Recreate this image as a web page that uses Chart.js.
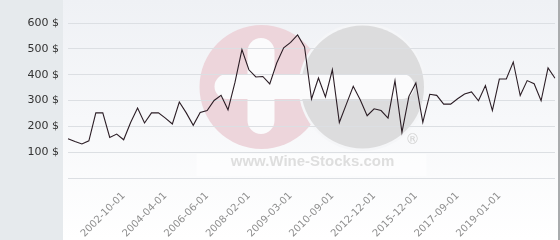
<!DOCTYPE html>
<html>
  <head>
    <meta charset="UTF-8">
    <title>Wine price history</title>
    <script src="https://cdn.jsdelivr.net/npm/chart.js@4"></script>
    <style>
      html, body { margin: 0; padding: 0; background: #fff; }
      canvas { display: block; }
    </style>
  </head>
  <body>
    <canvas id='priceChart' width='560' height='240'></canvas>

    <script>
      // one category per price quote, only some of them carry a date label
      const dateLabels = [
        '', '', '', '', '', '', '', '', '2002-10-01', '', '', '', '',
        '', '2004-04-01', '', '', '', '', '', '2006-06-01', '', '', '', '',
        '', '2008-02-01', '', '', '', '', '', '2009-03-01', '', '', '', '',
        '', '2010-09-01', '', '', '', '', '', '2012-12-01', '', '', '', '',
        '', '2015-12-01', '', '', '', '', '', '2017-09-01', '', '', '', '',
        '', '2019-01-01', '', '', '', '', '', '', '', ''
      ];

      const prices = [
        152, 141, 132, 144, 252, 252, 157, 170, 148, 215,
        271, 213, 252, 252, 232, 209, 294, 252, 204, 254,
        261, 300, 320, 264, 370, 497, 419, 391, 393, 364,
        445, 504, 525, 554, 507, 306, 387, 314, 419, 215,
        285, 355, 303, 241, 268, 261, 232, 377, 177, 316,
        368, 215, 324, 320, 286, 286, 307, 325, 333, 299,
        358, 261, 383, 383, 449, 319, 377, 365, 299, 426,
        386
      ];

      const priceTicks = [0, 100, 200, 300, 400, 500, 600];

      function pill(ctx, x, y, w, h) {
        ctx.beginPath();
        ctx.roundRect(x, y, w, h, Math.min(w, h) / 2);
        ctx.fill();
      }

      // page background, left label panel and the site watermark
      const backdrop = {
        id: 'backdrop',
        beforeDraw(chart) {
          const ctx = chart.ctx;
          const { width, height, chartArea } = chart;
          ctx.save();

          let bg = ctx.createLinearGradient(0, 0, 0, height);
          bg.addColorStop(0, '#eff1f5');
          bg.addColorStop(1, '#ffffff');
          ctx.fillStyle = bg;
          ctx.fillRect(0, 0, width, height);

          ctx.fillStyle = '#e6eaed';
          ctx.fillRect(0, 0, 63, height);
          ctx.fillStyle = '#a9abad';
          ctx.fillRect(width - 2, 0, 2, height);

          let cx = (chartArea.left + chartArea.right) / 2;
          let cy = chartArea.top + 64;
          let r = 62;

          ctx.fillStyle = '#edd5db';
          ctx.beginPath();
          ctx.arc(cx - 50, cy, r, 0, Math.PI * 2);
          ctx.fill();

          ctx.fillStyle = '#f5f6f8';
          ctx.beginPath();
          ctx.arc(cx + 51, cy, r + 2, 0, Math.PI * 2);
          ctx.fill();
          ctx.fillStyle = '#dcdcdd';
          ctx.beginPath();
          ctx.arc(cx + 51, cy, r - 0.5, 0, Math.PI * 2);
          ctx.fill();

          ctx.fillStyle = '#fbfbfc';
          pill(ctx, cx - 64, cy - 49, 27, 96);
          pill(ctx, cx - 97, cy - 13, 200, 25);

          ctx.fillStyle = 'rgba(255,255,255,0.5)';
          ctx.fillRect(cx - 115, cy + 67, 230, 22);

          ctx.fillStyle = '#dedede';
          ctx.font = 'bold 15px "Liberation Sans", Arial, sans-serif';
          ctx.textAlign = 'center';
          ctx.textBaseline = 'alphabetic';
          ctx.fillText('www.Wine-Stocks.com', cx + 1, cy + 79);

          ctx.fillStyle = '#d2d2d2';
          ctx.font = '14px "DejaVu Sans", sans-serif';
          ctx.fillText('\u00ae', cx + 101, cy + 57);

          ctx.restore();
        }
      };

      const priceCtx = document.getElementById('priceChart').getContext('2d');

      let priceChart = new Chart(priceCtx, {
        type: 'line',
        data: {
          labels: dateLabels,
          datasets: [{
            label: 'Price',
            data: prices,
            borderColor: '#2b1d25',
            borderWidth: 1.1,
            pointRadius: 0,
            tension: 0,
            fill: false
          }]
        },
        options: {
          responsive: false,
          animation: false,
          layout: { padding: { top: 23, right: 5, left: 0, bottom: 0 } },
          plugins: {
            legend: { display: false },
            tooltip: { enabled: false }
          },
          scales: {
            x: {
              offset: false,
              grid: { display: false, drawTicks: false },
              border: { display: false },
              ticks: {
                autoSkip: false,
                maxRotation: 45,
                minRotation: 45,
                padding: 12,
                color: '#8e8e8e',
                font: { family: 'DejaVu Sans', size: 10 }
              },
              afterFit: (scale) => {
                scale.height = 62;
                scale.paddingLeft = 0;
                scale.paddingRight = 0;
              }
            },
            y: {
              min: 0,
              max: 600,
              afterBuildTicks: (scale) => {
                scale.ticks = priceTicks.map(v => ({ value: v }));
              },
              grid: { color: '#dcdfe3', drawTicks: false },
              border: { display: false },
              ticks: {
                padding: 9,
                color: '#333',
                font: { family: 'DejaVu Sans', size: 11 },
                callback: (v) => v === 0 ? '' : v + ' $'
              },
              afterFit: (scale) => { scale.width = 68; }
            }
          }
        },
        plugins: [backdrop]
      });
    </script>
  </body>
</html>
